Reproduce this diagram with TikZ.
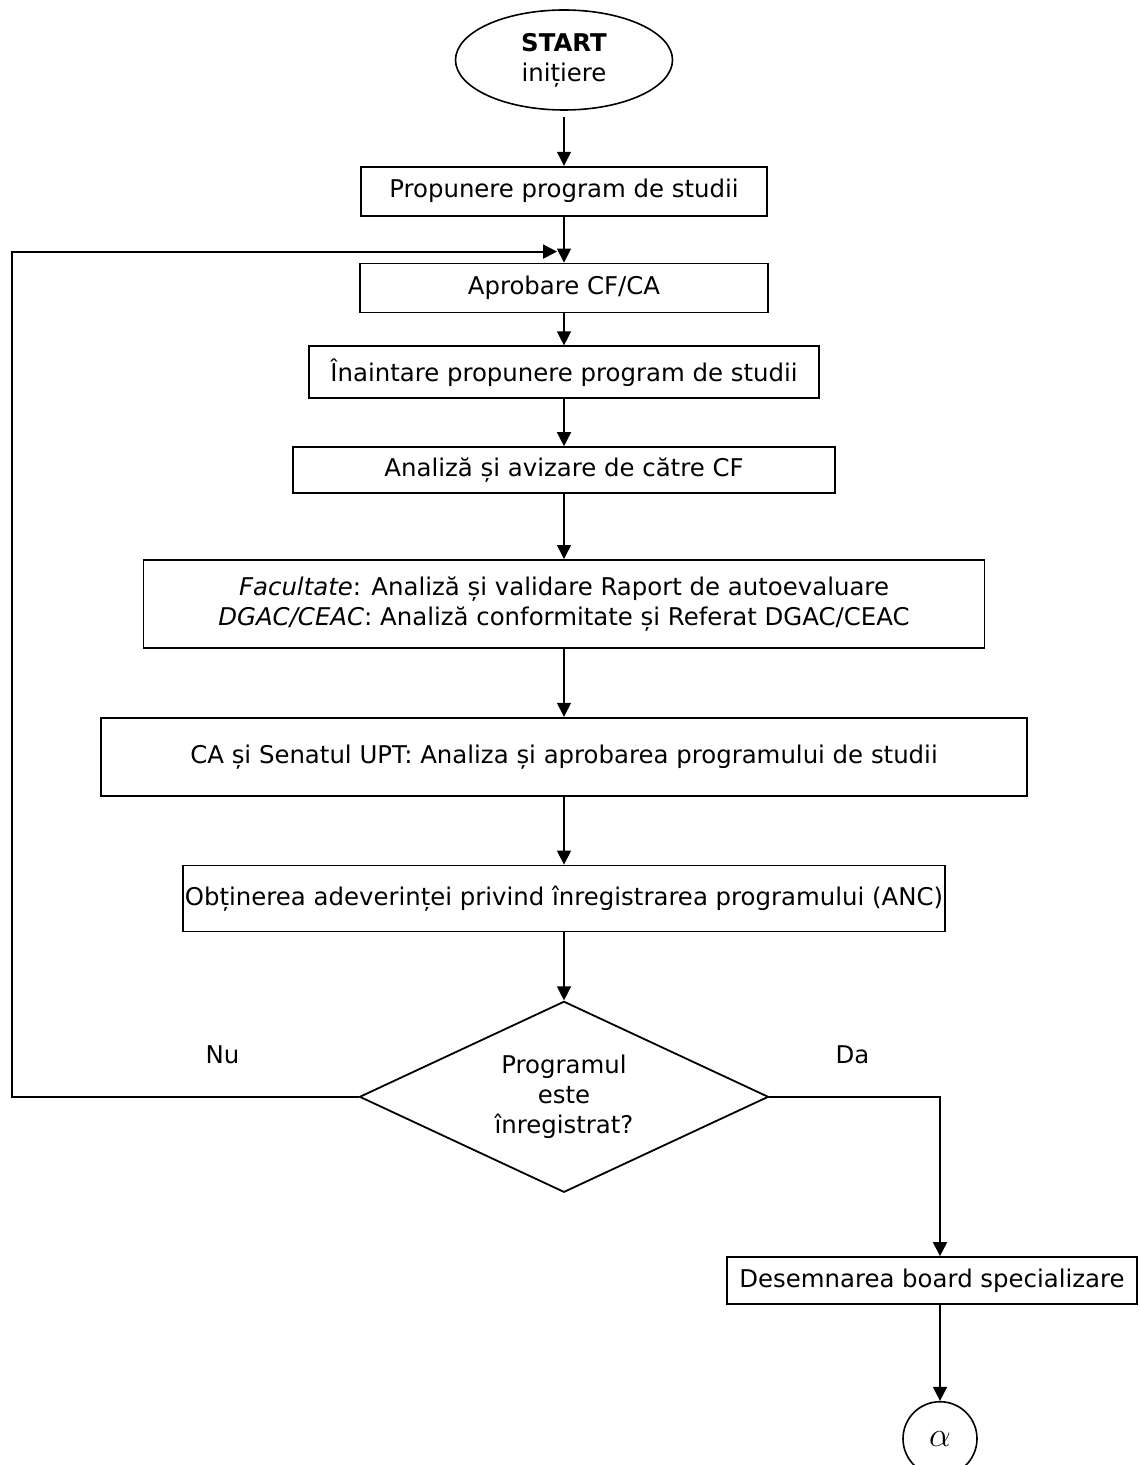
\documentclass[tikz,border=0pt]{standalone}
\usepackage{fontspec}
\setmainfont{DejaVu Sans}
\usetikzlibrary{shapes.geometric, arrows.meta, positioning, calc}

\begin{document}
\begin{tikzpicture}[
        x=1pt, y=1pt,
        font=\fontsize{12.2pt}{15pt}\selectfont,
        stepbox/.style={rectangle, draw, line width=0.9pt, minimum height=24.5pt, align=center, inner sep=1pt},
        flow/.style={-{Triangle[length=7pt, width=7pt]}, line width=0.7pt},
        backline/.style={-{Triangle[length=7pt, width=7pt]}, line width=1pt}
    ]
        \useasboundingbox (0,0) rectangle (569.5,-732.5);

        % Start
        \node[ellipse, draw, line width=0.8pt, minimum width=108.5pt, minimum height=50pt, inner sep=0pt, align=center] (start) at (282,-30) {\textbf{START}\\inițiere};

        % Steps
        \node[stepbox, minimum width=203pt, below=27.5pt of start] (propun) {Propunere program de studii};
        \node[stepbox, minimum width=204pt, below=23pt of propun] (aprob) {Aprobare CF/CA};
        \node[stepbox, minimum width=255pt, minimum height=26pt, below=16pt of aprob] (inaint) {Înaintare propunere program de studii};
        \node[stepbox, minimum width=271pt, minimum height=23pt, below=23.5pt of inaint] (aviz) {Analiză și avizare de către CF};
        \node[stepbox, minimum width=420.5pt, minimum height=44pt, below=32.5pt of aviz] (valid) {\textit{Facultate}: Analiză și validare Raport de autoevaluare\\\textit{DGAC/CEAC}: Analiză conformitate și Referat DGAC/CEAC};
        \node[stepbox, minimum width=463pt, minimum height=39pt, below=34pt of valid] (senat) {CA și Senatul UPT: Analiza și aprobarea programului de studii};
        \node[stepbox, minimum width=380pt, minimum height=33pt, below=34pt of senat] (adev) {Obținerea adeverinței privind înregistrarea programului (ANC)};

        % Decision
        \node[diamond, draw, line width=0.9pt, aspect=2.14, minimum width=204.5pt, minimum height=95.5pt, inner sep=1pt, align=center, below=34pt of adev] (inreg) {Programul\\este\\înregistrat?};
        \node (nu) at ($(inreg.west)+(-68,21)$) {Nu};
        \node (da) at ($(inreg.east)+(41.5,21)$) {Da};

        % End
        \node[stepbox, minimum width=205pt, minimum height=23.5pt] (board) at (466,-640.25) {Desemnarea board specializare};
        \node[circle, draw, line width=0.8pt, minimum size=37pt, inner sep=0pt, below=48pt of board, xshift=4pt, font=\fontsize{16pt}{16pt}\selectfont] (alpha) {$\alpha$};

        \coordinate (nuleft) at (6,0 |- inreg.west);
        \coordinate (dacorner) at (470,0 |- inreg.east);
        \coordinate (backin) at ($(propun.south)+(-3.5,-17.5)$);

        % Connections
        \draw[flow, shorten <=3pt] (start) -- (propun);
        \draw[flow] (propun) -- (aprob);
        \draw[flow] (aprob) -- (inaint);
        \draw[flow] (inaint) -- (aviz);
        \draw[flow] (aviz) -- (valid);
        \draw[flow] (valid) -- (senat);
        \draw[flow] (senat) -- (adev);
        \draw[flow] (adev) -- (inreg);
        \draw[backline] (inreg.west) -- (nuleft) |- (backin);
        \draw[backline] (inreg.east) -- (dacorner) -- (dacorner |- board.north);
        \draw[flow] (board.south -| alpha.north) -- (alpha);
    \end{tikzpicture}
\end{document}
